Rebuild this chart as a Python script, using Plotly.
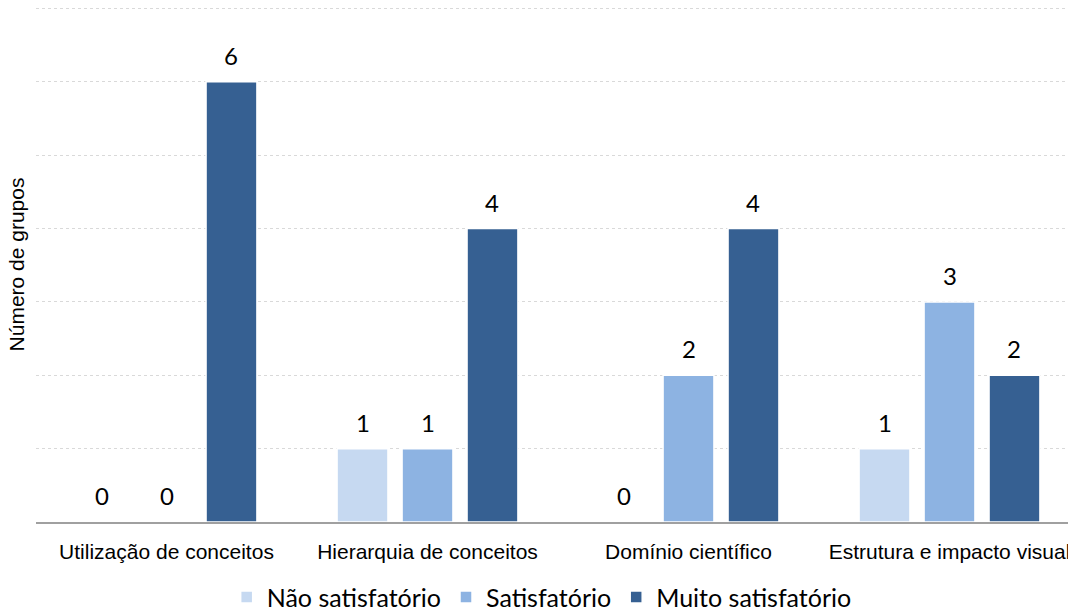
import plotly.graph_objects as go

categories = ["Utilização de conceitos", "Hierarquia de conceitos", "Domínio científico", "Estrutura e impacto visual"]
series_names = ["Não satisfatório", "Satisfatório", "Muito satisfatório"]
nao_satisfatorio = [0, 1, 0, 1]
satisfatorio = [0, 1, 2, 3]
muito_satisfatorio = [6, 4, 4, 2]
colors = ["#C6D9F1", "#8DB3E2", "#366092"]

series_values = [nao_satisfatorio, satisfatorio, muito_satisfatorio]

BARGAP = 0.253
GROUPGAP = 0.217
step = (1 - BARGAP) / 3

fig = go.Figure()
for name, vals, col in zip(series_names, series_values, colors):
    fig.add_trace(go.Bar(
        x=categories, y=vals, name=name,
        marker=dict(color=col, line=dict(color="white", width=1.5)),
    ))

label_font = dict(family="Lato", size=24, color="#000000")
for i, vals in enumerate(series_values):
    for j, v in enumerate(vals):
        fig.add_annotation(
            x=j + (i - 1) * step, y=v, xref="x", yref="y",
            text=str(v), showarrow=False, yanchor="bottom",
            yshift=10, font=label_font,
        )

fig.update_layout(
    width=1068, height=613,
    margin=dict(l=36, r=0, t=7, b=91, autoexpand=False),
    paper_bgcolor="white", plot_bgcolor="white",
    barmode="group", bargap=BARGAP, bargroupgap=GROUPGAP,
    showlegend=True,
    legend=dict(
        orientation="h", x=0.49, xanchor="center", y=-0.146, yanchor="middle",
        font=dict(family="Lato", size=25, color="#000000"),
        traceorder="normal",
    ),
    xaxis=dict(
        range=[-0.5, 3.454], showgrid=False, showline=True,
        linecolor="#A0A0A0", linewidth=2, ticks="",
        tickfont=dict(family="Arial", size=21, color="#000000"),
        ticklabelstandoff=10,
    ),
    yaxis=dict(
        range=[0, 7.02], dtick=1, showticklabels=False, showline=False, zeroline=False,
        showgrid=True, gridcolor="#D9D9D9", gridwidth=1, griddash="3px,3px",
        title=dict(text="Número de grupos", standoff=4,
                   font=dict(family="Arial", size=21, color="#000000")),
    ),
)

fig.write_html("out.html")
